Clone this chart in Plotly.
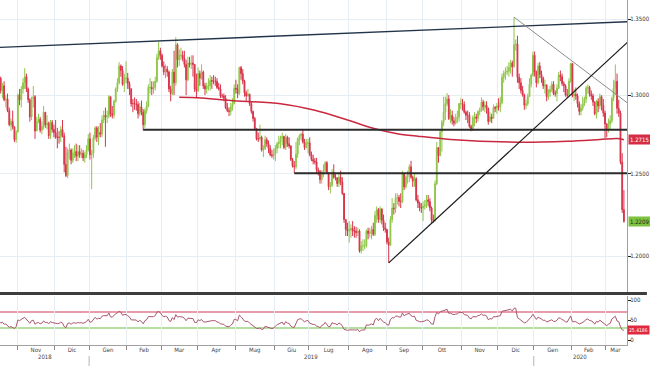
import numpy as np
import pandas as pd
import plotly.graph_objects as go

# ---------------- data (GBP/USD daily) ----------------
HOLIDAYS = ["2018-12-25", "2019-01-01", "2019-12-25", "2020-01-01"]
FIRST_DAY = "2018-09-17"
LAST_DAY = "2020-03-16"
VIEW_START = "2018-10-17"
OPEN_FIRST = 1.3110

CLOSE = [
    1.3150, 1.3150, 1.3170, 1.3270, 1.3070, 1.3100, 1.3190, 1.3150, 1.3050, 1.3035,
    1.3030, 1.2970, 1.2960, 1.3005, 1.3120, 1.3060, 1.3130, 1.3195, 1.3225, 1.3150, 1.3160, 1.3170,
    1.3110, 1.3030, 1.3060, 1.2970, 1.2975, 1.2900, 1.2810, 1.2830, 1.2795, 1.2715, 1.2765,
    1.3000, 1.2970, 1.3040, 1.3080, 1.3120, 1.3040, 1.2970, 1.2860, 1.2975, 1.2990, 1.2770, 1.2830,
    1.2845, 1.2775, 1.2800, 1.2890, 1.2810, 1.2820, 1.2740, 1.2825, 1.2780, 1.2760,
    1.2730, 1.2730, 1.2730, 1.2780, 1.2740, 1.2560, 1.2490, 1.2635, 1.2650, 1.2585,
    1.2630, 1.2640, 1.2610, 1.2640, 1.2620, 1.2630, 1.2600, 1.2620, 1.2650, 1.2720,
    1.2620, 1.2630, 1.2725, 1.2790, 1.2730, 1.2760, 1.2750, 1.2840, 1.2870, 1.2860, 1.2865,
    1.2990, 1.2880, 1.2870, 1.2960, 1.3040, 1.3080, 1.3190, 1.3160, 1.3070, 1.3110, 1.3110,
    1.3075, 1.3040, 1.2945, 1.2945, 1.2945, 1.2940, 1.2880, 1.2925, 1.2890, 1.2810,
    1.2900, 1.2930, 1.3050, 1.3050, 1.3040, 1.3050, 1.3090, 1.3245, 1.3290, 1.3260,
    1.3190, 1.3150, 1.3170, 1.3150, 1.3040, 1.3010, 1.3150, 1.3080, 1.3330, 1.3230, 1.3260,
    1.3260, 1.3240, 1.3200, 1.3100, 1.3210, 1.3200, 1.3210, 1.3200, 1.3040, 1.3030,
    1.3140, 1.3110, 1.3150, 1.3060, 1.3040, 1.3060, 1.3060, 1.3095, 1.3090, 1.3090, 1.3090,
    1.3050, 1.3040, 1.2995, 1.2995, 1.2980, 1.2920, 1.2900, 1.2895, 1.2925, 1.2945, 1.3045,
    1.3040, 1.3010, 1.3180, 1.3140, 1.3090, 1.3015, 1.2995, 1.3005, 1.2945, 1.2895, 1.2850, 1.2785,
    1.2720, 1.2720, 1.2730, 1.2650, 1.2660, 1.2715, 1.2690, 1.2660, 1.2620, 1.2615, 1.2625,
    1.2660, 1.2690, 1.2700, 1.2725, 1.2735, 1.2665, 1.2730, 1.2690, 1.2675, 1.2590,
    1.2550, 1.2545, 1.2625, 1.2720, 1.2740, 1.2750, 1.2700, 1.2665, 1.2690, 1.2695,
    1.2620, 1.2590, 1.2580, 1.2575, 1.2525, 1.2515, 1.2465, 1.2510, 1.2520, 1.2570, 1.2505, 1.2420,
    1.2430, 1.2510, 1.2480, 1.2475, 1.2440, 1.2480, 1.2450, 1.2380, 1.2220, 1.2160, 1.2150,
    1.2160, 1.2165, 1.2150, 1.2150, 1.2140, 1.2150, 1.2030, 1.2060, 1.2060, 1.2060, 1.2150,
    1.2135, 1.2145, 1.2160, 1.2130, 1.2245, 1.2280, 1.2220, 1.2285, 1.2215, 1.2170, 1.2160,
    1.2085, 1.2065, 1.2220, 1.2290, 1.2285, 1.2350, 1.2355, 1.2330, 1.2330, 1.2500, 1.2420,
    1.2480, 1.2495, 1.2545, 1.2480, 1.2455, 1.2470, 1.2340, 1.2320, 1.2290, 1.2290,
    1.2300, 1.2310, 1.2340, 1.2330, 1.2290, 1.2215, 1.2215, 1.2440, 1.2665, 1.2615, 1.2765, 1.2825,
    1.2890, 1.2945, 1.2975, 1.2850, 1.2870, 1.2835, 1.2820, 1.2845, 1.2860, 1.2945, 1.2945,
    1.2940, 1.2890, 1.2870, 1.2870, 1.2800, 1.2775, 1.2855, 1.2860, 1.2850, 1.2895, 1.2905,
    1.2955, 1.2925, 1.2935, 1.2915, 1.2830, 1.2860, 1.2850, 1.2920, 1.2915, 1.2930,
    1.2925, 1.2950, 1.3115, 1.3140, 1.3150, 1.3155, 1.3180, 1.3210, 1.3185, 1.3330, 1.3335,
    1.3115, 1.3080, 1.3030, 1.3000, 1.2935, 1.2945, 1.2990, 1.3070, 1.3130, 1.3260,
    1.3150, 1.3080, 1.3190, 1.3135, 1.3110, 1.3060, 1.3065, 1.2990, 1.3020, 1.3035, 1.3070,
    1.3010, 1.3010, 1.3045, 1.3130, 1.3120, 1.3075, 1.3060, 1.3000, 1.3000, 1.3090, 1.3205,
    1.2995, 1.3005, 1.2995, 1.2945, 1.2895, 1.2915, 1.2945, 1.2975, 1.3045, 1.3050,
    1.3005, 1.2995, 1.2955, 1.2880, 1.2960, 1.2930, 1.2990, 1.2935, 1.2885, 1.2815,
    1.2775, 1.2815, 1.2835, 1.2980, 1.3045, 1.3090, 1.2915, 1.2885, 1.2575, 1.2280, 1.2209,
]

HIGH = [
    1.3170, 1.3180, 1.3190, 1.3300, 1.3290, 1.3140, 1.3220, 1.3200, 1.3160, 1.3070,
    1.3090, 1.3040, 1.3030, 1.3030, 1.3130, 1.3120, 1.3140, 1.3220, 1.3260, 1.3250, 1.3170, 1.3215,
    1.3190, 1.3120, 1.3080, 1.3090, 1.3000, 1.3010, 1.2920, 1.2850, 1.2900, 1.2800, 1.2775,
    1.3010, 1.3040, 1.3060, 1.3110, 1.3175, 1.3140, 1.3050, 1.2980, 1.2990, 1.3060, 1.3000, 1.2860,
    1.2880, 1.2860, 1.2830, 1.2930, 1.2890, 1.2870, 1.2830, 1.2840, 1.2840, 1.2810,
    1.2840, 1.2790, 1.2770, 1.2800, 1.2840, 1.2760, 1.2670, 1.2660, 1.2690, 1.2660,
    1.2660, 1.2680, 1.2690, 1.2680, 1.2680, 1.2660, 1.2650, 1.2640, 1.2680, 1.2750,
    1.2760, 1.2650, 1.2745, 1.2800, 1.2800, 1.2800, 1.2820, 1.2870, 1.2900, 1.2920, 1.2900,
    1.3000, 1.2990, 1.2930, 1.2970, 1.3050, 1.3110, 1.3215, 1.3200, 1.3190, 1.3140, 1.3220,
    1.3145, 1.3090, 1.3045, 1.2975, 1.2985, 1.2975, 1.2960, 1.2950, 1.2965, 1.2910,
    1.2915, 1.2960, 1.3070, 1.3110, 1.3090, 1.3090, 1.3120, 1.3270, 1.3350, 1.3310,
    1.3270, 1.3220, 1.3200, 1.3190, 1.3160, 1.3060, 1.3170, 1.3290, 1.3380, 1.3340, 1.3300,
    1.3310, 1.3290, 1.3290, 1.3230, 1.3250, 1.3250, 1.3260, 1.3260, 1.3200, 1.3140,
    1.3180, 1.3160, 1.3200, 1.3160, 1.3080, 1.3080, 1.3110, 1.3130, 1.3120, 1.3130, 1.3120,
    1.3110, 1.3080, 1.3070, 1.3010, 1.3010, 1.3000, 1.2950, 1.2920, 1.2950, 1.2980, 1.3070,
    1.3100, 1.3070, 1.3185, 1.3190, 1.3170, 1.3100, 1.3030, 1.3040, 1.3010, 1.2960, 1.2900, 1.2860,
    1.2790, 1.2760, 1.2810, 1.2740, 1.2680, 1.2740, 1.2730, 1.2710, 1.2680, 1.2650, 1.2660,
    1.2680, 1.2700, 1.2740, 1.2740, 1.2760, 1.2740, 1.2750, 1.2740, 1.2730, 1.2680,
    1.2600, 1.2580, 1.2700, 1.2730, 1.2750, 1.2760, 1.2783, 1.2720, 1.2720, 1.2720,
    1.2730, 1.2640, 1.2620, 1.2600, 1.2600, 1.2540, 1.2525, 1.2525, 1.2560, 1.2580, 1.2580, 1.2510,
    1.2450, 1.2530, 1.2560, 1.2500, 1.2480, 1.2500, 1.2520, 1.2480, 1.2380, 1.2220, 1.2200,
    1.2210, 1.2190, 1.2210, 1.2180, 1.2175, 1.2170, 1.2160, 1.2090, 1.2100, 1.2100, 1.2160,
    1.2170, 1.2170, 1.2180, 1.2200, 1.2270, 1.2300, 1.2290, 1.2300, 1.2270, 1.2250, 1.2200,
    1.2160, 1.2110, 1.2240, 1.2350, 1.2320, 1.2380, 1.2380, 1.2370, 1.2380, 1.2520, 1.2490,
    1.2490, 1.2520, 1.2560, 1.2582, 1.2490, 1.2500, 1.2480, 1.2370, 1.2330, 1.2320,
    1.2330, 1.2340, 1.2370, 1.2370, 1.2350, 1.2300, 1.2250, 1.2460, 1.2700, 1.2660, 1.2780, 1.2840,
    1.2990, 1.2990, 1.3013, 1.3000, 1.2910, 1.2900, 1.2860, 1.2880, 1.2900, 1.2950, 1.2980,
    1.2975, 1.2960, 1.2900, 1.2900, 1.2890, 1.2810, 1.2870, 1.2890, 1.2880, 1.2900, 1.2920,
    1.2985, 1.2970, 1.2960, 1.2960, 1.2920, 1.2890, 1.2880, 1.2940, 1.2930, 1.2950,
    1.2980, 1.2990, 1.3140, 1.3160, 1.3180, 1.3190, 1.3215, 1.3230, 1.3225, 1.3514, 1.3365,
    1.3390, 1.3140, 1.3110, 1.3060, 1.3010, 1.2970, 1.3010, 1.3110, 1.3140, 1.3285,
    1.3285, 1.3160, 1.3210, 1.3215, 1.3160, 1.3120, 1.3100, 1.3070, 1.3040, 1.3060, 1.3090,
    1.3090, 1.3030, 1.3070, 1.3150, 1.3160, 1.3140, 1.3090, 1.3070, 1.3040, 1.3110, 1.3210,
    1.3210, 1.3040, 1.3050, 1.3010, 1.2960, 1.2940, 1.2990, 1.2990, 1.3060, 1.3070,
    1.3060, 1.3030, 1.3010, 1.2960, 1.2970, 1.2980, 1.3010, 1.3000, 1.2975, 1.2900,
    1.2820, 1.2850, 1.2870, 1.2990, 1.3100, 1.3200, 1.3140, 1.2970, 1.2900, 1.2630, 1.2400,
]

LOW = [
    1.3080, 1.3100, 1.3100, 1.3150, 1.3050, 1.3050, 1.3090, 1.3120, 1.3040, 1.3010,
    1.2990, 1.2925, 1.2950, 1.2920, 1.3000, 1.3010, 1.3030, 1.3110, 1.3170, 1.3140, 1.3080, 1.3100,
    1.3090, 1.3010, 1.2980, 1.2960, 1.2920, 1.2890, 1.2800, 1.2770, 1.2780, 1.2700, 1.2695,
    1.2760, 1.2935, 1.2920, 1.3010, 1.3040, 1.3020, 1.2950, 1.2830, 1.2840, 1.2920, 1.2720, 1.2780,
    1.2820, 1.2760, 1.2750, 1.2780, 1.2790, 1.2780, 1.2720, 1.2720, 1.2760, 1.2730,
    1.2720, 1.2660, 1.2690, 1.2700, 1.2730, 1.2510, 1.2480, 1.2475, 1.2590, 1.2560,
    1.2570, 1.2600, 1.2580, 1.2580, 1.2600, 1.2600, 1.2580, 1.2570, 1.2600, 1.2640,
    1.2590, 1.2405, 1.2600, 1.2710, 1.2700, 1.2680, 1.2730, 1.2730, 1.2820, 1.2670, 1.2820,
    1.2850, 1.2860, 1.2850, 1.2850, 1.2950, 1.3020, 1.3070, 1.3120, 1.3060, 1.3020, 1.3080,
    1.3040, 1.3000, 1.2925, 1.2890, 1.2905, 1.2900, 1.2850, 1.2865, 1.2870, 1.2775,
    1.2790, 1.2880, 1.2920, 1.3010, 1.3000, 1.3010, 1.3030, 1.3080, 1.3230, 1.3230,
    1.3180, 1.3130, 1.3110, 1.3120, 1.3020, 1.2960, 1.3000, 1.3000, 1.3060, 1.3180, 1.3190,
    1.3230, 1.3220, 1.3180, 1.3000, 1.3090, 1.3180, 1.3170, 1.3120, 1.3020, 1.2980,
    1.3020, 1.3060, 1.3100, 1.3040, 1.3000, 1.3010, 1.3030, 1.3030, 1.3040, 1.3070, 1.3060,
    1.3040, 1.3030, 1.2980, 1.2980, 1.2960, 1.2910, 1.2890, 1.2865, 1.2870, 1.2900, 1.2940,
    1.3010, 1.2980, 1.3000, 1.3100, 1.3070, 1.2990, 1.2960, 1.2990, 1.2930, 1.2880, 1.2830, 1.2780,
    1.2710, 1.2700, 1.2710, 1.2640, 1.2605, 1.2650, 1.2670, 1.2630, 1.2610, 1.2600, 1.2590,
    1.2580, 1.2630, 1.2660, 1.2660, 1.2680, 1.2655, 1.2650, 1.2670, 1.2660, 1.2580,
    1.2540, 1.2506, 1.2530, 1.2600, 1.2680, 1.2710, 1.2690, 1.2650, 1.2660, 1.2630,
    1.2610, 1.2580, 1.2560, 1.2560, 1.2500, 1.2490, 1.2440, 1.2440, 1.2480, 1.2510, 1.2500, 1.2400,
    1.2380, 1.2420, 1.2470, 1.2460, 1.2420, 1.2420, 1.2430, 1.2370, 1.2200, 1.2120, 1.2120,
    1.2080, 1.2110, 1.2120, 1.2110, 1.2110, 1.2120, 1.2020, 1.2015, 1.2030, 1.2040, 1.2050,
    1.2100, 1.2110, 1.2100, 1.2120, 1.2120, 1.2200, 1.2200, 1.2200, 1.2190, 1.2150, 1.2140,
    1.2070, 1.1959, 1.2060, 1.2200, 1.2250, 1.2260, 1.2310, 1.2300, 1.2290, 1.2320, 1.2400,
    1.2410, 1.2440, 1.2450, 1.2470, 1.2420, 1.2420, 1.2330, 1.2290, 1.2270, 1.2260,
    1.2210, 1.2280, 1.2290, 1.2300, 1.2270, 1.2196, 1.2200, 1.2205, 1.2430, 1.2570, 1.2610, 1.2640,
    1.2800, 1.2840, 1.2930, 1.2840, 1.2820, 1.2810, 1.2800, 1.2810, 1.2820, 1.2830, 1.2910,
    1.2900, 1.2880, 1.2840, 1.2820, 1.2790, 1.2769, 1.2770, 1.2800, 1.2820, 1.2830, 1.2870,
    1.2890, 1.2900, 1.2890, 1.2880, 1.2810, 1.2830, 1.2820, 1.2850, 1.2890, 1.2880,
    1.2900, 1.2890, 1.2940, 1.3080, 1.3100, 1.3130, 1.3120, 1.3140, 1.3120, 1.3180, 1.3290,
    1.3080, 1.3040, 1.3010, 1.2990, 1.2905, 1.2910, 1.2930, 1.2990, 1.3050, 1.3120,
    1.3120, 1.3050, 1.3070, 1.3110, 1.3080, 1.3040, 1.3010, 1.2960, 1.2970, 1.2990, 1.3020,
    1.3000, 1.2990, 1.2960, 1.3040, 1.3090, 1.3060, 1.3020, 1.2990, 1.2980, 1.2990, 1.3080,
    1.2985, 1.2960, 1.2970, 1.2920, 1.2870, 1.2870, 1.2900, 1.2930, 1.2950, 1.3010,
    1.2990, 1.2970, 1.2930, 1.2870, 1.2850, 1.2890, 1.2910, 1.2900, 1.2860, 1.2725,
    1.2730, 1.2760, 1.2780, 1.2820, 1.2960, 1.3000, 1.2880, 1.2860, 1.2560, 1.2260, 1.2200,
]

# 200-day moving average
MA_DATES = ["2019-03-15", "2019-04-01", "2019-04-26", "2019-06-06", "2019-07-04",
            "2019-07-31", "2019-08-22", "2019-09-10", "2019-09-26", "2019-10-23",
            "2019-12-17", "2020-01-29", "2020-02-25", "2020-03-10", "2020-03-16"]
MA_VALUES = [1.2986, 1.2983, 1.2965, 1.2944, 1.2902,
             1.2840, 1.2784, 1.2753, 1.2737, 1.2716,
             1.2699, 1.2705, 1.2716, 1.2722, 1.2715]

# analyst drawings: (dates, prices)
TOP_LINE = (["2018-10-17", "2020-03-18"], [1.3312, 1.3483])
FALLING_LINE = (["2019-12-13", "2020-03-18"], [1.3514, 1.2950])
RISING_LINE = (["2019-09-03", "2020-03-18"], [1.1959, 1.3345])
SUPPORT_1 = (["2019-02-14", "2020-03-18"], [1.2778, 1.2778])
SUPPORT_2 = (["2019-06-18", "2020-03-18"], [1.2505, 1.2505])

RSI_PERIOD = 14
RSI_LEVELS = [70, 30]
RSI_LAST_READ = 25.4186
PRICE_TICKS = [1.20, 1.25, 1.30, 1.35]
RSI_TICKS = [0, 50, 100]
MONTHS_IT = ["Gen", "Feb", "Mar", "Apr", "Mag", "Giu", "Lug", "Ago", "Sep", "Ott", "Nov", "Dic"]

# ---------------- preparation ----------------
dates = pd.bdate_range(FIRST_DAY, LAST_DAY, freq="C", holidays=HOLIDAYS)
n = len(dates)
assert len(CLOSE) == n and len(HIGH) == n and len(LOW) == n, (n, len(CLOSE), len(HIGH), len(LOW))
HOL = np.array(HOLIDAYS, dtype="datetime64[D]")


def idx(d):
    return int(np.busday_count(np.datetime64(FIRST_DAY), np.datetime64(d), holidays=HOL))


xs = np.arange(n)
close = np.array(CLOSE)
opens = np.concatenate([[OPEN_FIRST], close[:-1]])
high = np.maximum.reduce([np.array(HIGH), opens, close])
low = np.minimum.reduce([np.array(LOW), opens, close])

# RSI (Wilder)
diff = np.diff(close)
gain = np.clip(diff, 0, None)
loss = np.clip(-diff, 0, None)
rsi = np.full(n, np.nan)
ag = gain[:RSI_PERIOD].mean()
al = loss[:RSI_PERIOD].mean()
rsi[RSI_PERIOD] = 100 - 100 / (1 + ag / al)
for i in range(RSI_PERIOD + 1, n):
    ag = (ag * (RSI_PERIOD - 1) + gain[i - 1]) / RSI_PERIOD
    al = (al * (RSI_PERIOD - 1) + loss[i - 1]) / RSI_PERIOD
    rsi[i] = 100 - 100 / (1 + ag / al)

x_lo = idx(VIEW_START) + 0.6
x_hi = (n - 1) + 1.8

df = pd.DataFrame({"d": dates, "i": xs})
grp = df.groupby([df.d.dt.year, df.d.dt.month])["i"]
month_first = grp.min()
month_mean = grp.mean()
bounds = [v - 0.5 for v in month_first.values if x_lo < v - 0.5 < x_hi]
mids, names = [], []
for (yy, mm), v in month_mean.items():
    if x_lo + 3 < v < x_hi:
        mids.append(v)
        names.append(MONTHS_IT[mm - 1])
year_first = df.groupby(df.d.dt.year)["i"].min()
year_bounds = [v - 0.5 for v in year_first.values if x_lo < v - 0.5 < x_hi]
year_edges = [x_lo] + year_bounds + [x_hi]
year_labels = [str(y) for y in year_first.index]

# ---------------- figure ----------------
GRID = "#e6edf3"
FONT = "Liberation Sans Narrow, DejaVu Sans Condensed, Liberation Sans, Arial, sans-serif"
H_PLOT = 345.0
P_TOP, P_BOT = 1.3630, 1.1787

fig = go.Figure()
fig.add_trace(go.Candlestick(
    x=xs, open=opens, high=high, low=low, close=close,
    increasing=dict(line=dict(color="#8fc64a", width=1), fillcolor="#8fc64a"),
    decreasing=dict(line=dict(color="#d8344a", width=1), fillcolor="#d8344a"),
    whiskerwidth=0, xaxis="x", yaxis="y", hoverinfo="skip"))

fig.add_trace(go.Scatter(x=[idx(d) for d in MA_DATES], y=MA_VALUES, mode="lines",
                         line=dict(color="#c9283f", width=1.5, shape="spline", smoothing=0.8),
                         xaxis="x", yaxis="y", hoverinfo="skip"))

for (dd, pp), col, w in [(SUPPORT_1, "#2b2b2b", 2), (SUPPORT_2, "#2b2b2b", 2),
                         (TOP_LINE, "#22344a", 1.4), (FALLING_LINE, "#8c8c8c", 1),
                         (RISING_LINE, "#1b1b1b", 1.2)]:
    fig.add_trace(go.Scatter(x=[idx(d) for d in dd], y=pp, mode="lines",
                             line=dict(color=col, width=w), xaxis="x", yaxis="y", hoverinfo="skip"))

fig.add_trace(go.Scatter(x=xs, y=rsi, mode="lines", line=dict(color="#ab5670", width=1),
                         xaxis="x2", yaxis="y2", hoverinfo="skip"))

shapes = []
for lev, col in zip(RSI_LEVELS, ["#d23a50", "#6dbd48"]):
    shapes.append(dict(type="line", xref="paper", x0=0, x1=1, yref="y2", y0=lev, y1=lev,
                       line=dict(color=col, width=1.2), layer="below"))
# panel separator
shapes.append(dict(type="line", xref="paper", x0=0, x1=650 / 630, yref="paper",
                   y0=(H_PLOT - 293.5) / H_PLOT, y1=(H_PLOT - 293.5) / H_PLOT,
                   line=dict(color="#3d3d3d", width=3)))
for yb in year_bounds:
    shapes.append(dict(type="line", xref="x2", x0=yb, x1=yb, yref="paper",
                       y0=-11 / H_PLOT, y1=-21 / H_PLOT, line=dict(color="#b5b5b5", width=1)))

annotations = []
for a, b, lab in zip(year_edges[:-1], year_edges[1:], year_labels):
    annotations.append(dict(x=(a + b) / 2, xref="x2", y=-16.5 / H_PLOT, yref="paper", text=lab,
                            showarrow=False, font=dict(size=6, color="#444", family=FONT)))
annotations.append(dict(x=1, xref="paper", xanchor="left", xshift=1, y=np.log10(CLOSE[-1]), yref="y",
                        text=f"{CLOSE[-1]:.4f}", showarrow=False, bgcolor="#7fc241",
                        borderpad=1, font=dict(size=6, color="#1d2a10", family=FONT)))
annotations.append(dict(x=1, xref="paper", xanchor="left", xshift=1, y=np.log10(MA_VALUES[-1]), yref="y",
                        text=f"{MA_VALUES[-1]:.4f}", showarrow=False, bgcolor="#d52d45",
                        borderpad=1, font=dict(size=6, color="white", family=FONT)))
annotations.append(dict(x=1, xref="paper", xanchor="left", xshift=0, y=RSI_LAST_READ, yref="y2",
                        text=f"{RSI_LAST_READ:.4f}", showarrow=False, bgcolor="#e0283f",
                        borderpad=1, font=dict(size=5, color="white", family=FONT)))

fig.update_layout(
    width=650, height=366, margin=dict(l=0, r=20, t=0, b=21),
    paper_bgcolor="white", plot_bgcolor="white", showlegend=False,
    font=dict(family=FONT, size=7, color="#333"),
    shapes=shapes, annotations=annotations,
    xaxis=dict(domain=[0, 1], anchor="y", range=[x_lo, x_hi], showticklabels=False,
               tickmode="array", tickvals=bounds, ticks="", showgrid=True, gridcolor=GRID,
               zeroline=False, rangeslider=dict(visible=False), showline=False, fixedrange=True),
    yaxis=dict(domain=[(H_PLOT - 292) / H_PLOT, 1], anchor="x", type="log",
               range=[np.log10(P_BOT), np.log10(P_TOP)], side="right",
               tickmode="array", tickvals=PRICE_TICKS, ticktext=[f"{v:.4f}" for v in PRICE_TICKS],
               showgrid=True, gridcolor=GRID, ticks="outside", ticklen=3, tickcolor="#222",
               showline=True, linecolor="#a0a0a0", linewidth=1, zeroline=False,
               ticklabelstandoff=-2, tickfont=dict(size=6, color="#333")),
    xaxis2=dict(domain=[0, 1], anchor="y2", range=[x_lo, x_hi], matches="x",
                tickmode="array", tickvals=mids, ticktext=names, ticks="", showgrid=False,
                minor=dict(tickmode="array", tickvals=bounds, ticks="outside", ticklen=4,
                           tickcolor="#8a8a8a", showgrid=True, gridcolor=GRID),
                showline=True, linecolor="#a0a0a0", linewidth=1, zeroline=False,
                ticklabelstandoff=-1, tickfont=dict(size=6, color="#444")),
    yaxis2=dict(domain=[0, 49 / H_PLOT], anchor="x2", range=[-12.5, 110], side="right",
                tickmode="array", tickvals=RSI_TICKS, ticks="outside", ticklen=3, tickcolor="#222",
                showgrid=False, showline=True, linecolor="#a0a0a0", zeroline=False,
                ticklabelstandoff=-2, tickfont=dict(size=6, color="#333")),
)

fig.write_html("out.html", config={"displayModeBar": False},
               post_script="document.body.style.margin='0';document.body.style.overflow='hidden';")
